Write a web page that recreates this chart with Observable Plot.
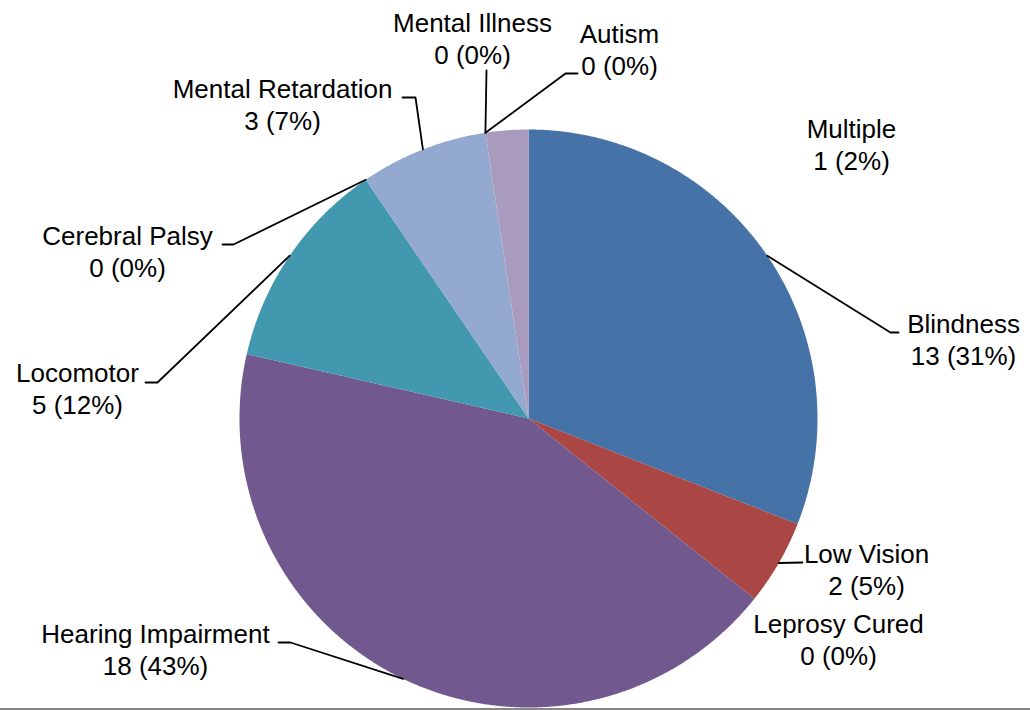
<!DOCTYPE html>
<html><head><meta charset="utf-8">
<script src="https://cdn.jsdelivr.net/npm/d3@7"></script>
<script src="https://cdn.jsdelivr.net/npm/@observablehq/plot@0.6"></script>
<style>
body{margin:0;background:#fff;}
#chart{width:1030px;border-bottom:2px solid #878787;}
#chart svg{display:block;}
</style>
</head><body><div id="chart"></div>
<script>
// ---- data ----
const categories = ["Blindness","Low Vision","Leprosy Cured","Hearing Impairment","Locomotor","Cerebral Palsy","Mental Retardation","Mental Illness","Autism","Multiple"];
const counts = [13, 2, 0, 18, 5, 0, 3, 0, 0, 1];
const sliceColors = ["#4572A7","#AA4643","#89A54E","#71588F","#4198AF","#DB843D","#93A9CF","#D19392","#B9CD96","#A99BBD"];

// ---- layout (label block centre, first baseline, leader elbow/end points) ----
const labelLayout = [
  {cx: 963, base: 332, leader: [[890,332],[898,332]]},
  {cx: 866, base: 562, leader: [[802,562]]},
  {cx: 838, base: 632, leader: null},
  {cx: 155, base: 642, leader: [[290,642],[278,642]]},
  {cx: 77,  base: 381, leader: [[157,382],[145,382]]},
  {cx: 127, base: 244, leader: [[233,244],[222,244]]},
  {cx: 282, base: 97,  leader: [[415,97],[402,97]]},
  {cx: 472, base: 31,  leader: [[486,70]]},
  {cx: 619, base: 42,  leader: [[565,73],[577,73]]},
  {cx: 851, base: 137, leader: null}
];
const W = 1030, H = 708, CX = 528, CY = 418, R = 289, LINE = 32;

const total = d3.sum(counts);
const arcs = d3.pie().sort(null).value(d => d)(counts);
const pt = (a, r) => [CX + r * Math.sin(a), CY - r * Math.cos(a)];

const slicePts = [];
arcs.forEach((a, i) => {
  if (a.endAngle - a.startAngle <= 0) return;
  const n = Math.max(2, Math.ceil((a.endAngle - a.startAngle) / 0.005));
  slicePts.push({name: categories[i], color: sliceColors[i], x: CX, y: CY});
  for (let k = 0; k <= n; k++) {
    const t = a.startAngle + (a.endAngle - a.startAngle) * k / n;
    const [x, y] = pt(t, R);
    slicePts.push({name: categories[i], color: sliceColors[i], x, y});
  }
  slicePts.push({name: categories[i], color: sliceColors[i], x: CX, y: CY});
});

const leaderPts = [];
arcs.forEach((a, i) => {
  const L = labelLayout[i];
  if (!L.leader) return;
  const mid = (a.startAngle + a.endAngle) / 2;
  const [x0, y0] = pt(mid, R);
  leaderPts.push({name: categories[i], x: x0, y: y0});
  L.leader.forEach(([x, y]) => leaderPts.push({name: categories[i], x, y}));
});

const labelRows = [];
categories.forEach((c, i) => {
  const L = labelLayout[i];
  const pct = Math.round(counts[i] / total * 100);
  labelRows.push({x: L.cx, y: L.base, text: c});
  labelRows.push({x: L.cx, y: L.base + LINE, text: `${counts[i]} (${pct}%)`});
});

const chart = Plot.plot({
  width: W, height: H,
  marginTop: 0, marginRight: 0, marginBottom: 0, marginLeft: 0,
  x: {domain: [0, W], range: [0, W], axis: null},
  y: {domain: [0, H], range: [0, H], axis: null},
  style: {fontFamily: "'Liberation Sans', Arial, sans-serif", background: "#fff"},
  marks: [
    Plot.line(slicePts, {x: "x", y: "y", z: "name", fill: "color", stroke: "none", curve: "linear"}),
    Plot.line(leaderPts, {x: "x", y: "y", z: "name", stroke: "#000", strokeWidth: 1.8, curve: "linear"}),
    Plot.text(labelRows, {x: "x", y: "y", text: "text", textAnchor: "middle", lineAnchor: "bottom", fontSize: 26, fill: "#000"})
  ]
});
document.getElementById("chart").appendChild(chart);
</script>
</body></html>
